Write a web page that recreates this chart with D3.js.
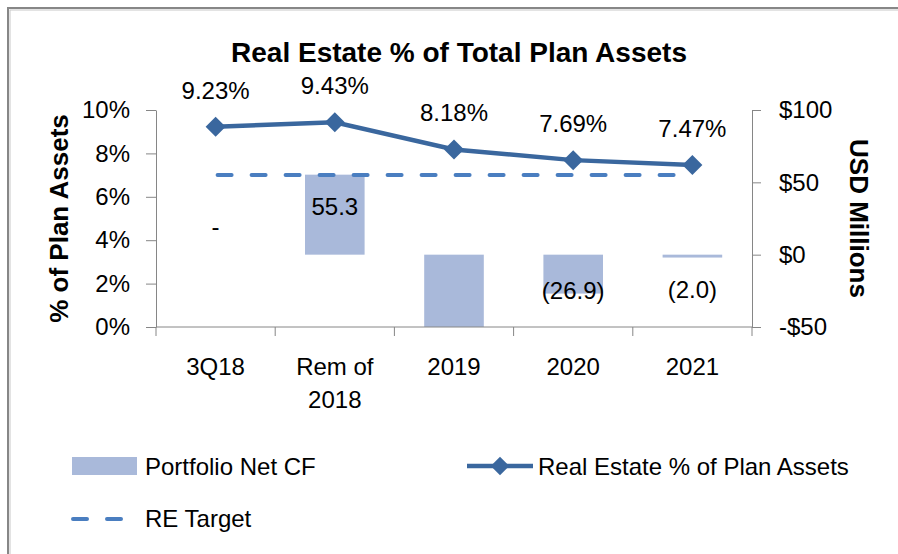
<!DOCTYPE html>
<html>
<head>
	<title>Real Estate % of Total Plan Assets</title>
	<script src="https://cdn.jsdelivr.net/npm/d3@7"></script>
	<style type="text/css">

body {
	margin: 0;
	background: #fff;
}

text {
	font-family: "Liberation Sans", Arial, sans-serif;
	fill: #000;
}

.axis path, .axis line {
	stroke: #868686;
	stroke-width: 1px;
	fill: none;
}

.axis text {
	font-size: 24px;
}

.boxheading {
	font-weight: bold;
}

	</style>
</head>
<body>

<div id="chart"></div>

<script type="text/javascript">

var categories = ["3Q18", "Rem of 2018", "2019", "2020", "2021"];
var categoryLines = [["3Q18"], ["Rem of", "2018"], ["2019"], ["2020"], ["2021"]];
var netCF = [0, 55.3, -56, -26.9, -2.0];          // USD millions, right axis
var rePct = [0.0923, 0.0943, 0.0818, 0.0769, 0.0747];
var reTarget = 0.07;
var pctTicks = [0, 0.02, 0.04, 0.06, 0.08, 0.10];
var usdTicks = [-50, 0, 50, 100];

var width = 898, height = 554;
var plot = {left: 156, right: 752, top: 110, bottom: 327};

var colors = {bar: "#a9b9da", line: "#3a679e", target: "#4a7ec0", frame: "#878787"};

var svg = d3.select("#chart").append("svg")
			.attr("width", width)
			.attr("height", height);

// outer frame (runs past the right and bottom edges like the screenshot)
svg.append("rect")
	.attr("x", 8).attr("y", 8)
	.attr("width", 1000).attr("height", 1000)
	.attr("fill", "none")
	.attr("stroke", colors.frame)
	.attr("stroke-width", 2);
svg.append("rect")
	.attr("x", 10).attr("y", 10)
	.attr("width", 1000).attr("height", 1000)
	.attr("fill", "none")
	.attr("stroke", "#c8c8c8")
	.attr("stroke-width", 1);

var x = d3.scaleBand().domain(categories).range([plot.left, plot.right]);
var yL = d3.scaleLinear().domain([0, 0.10]).range([plot.bottom, plot.top]);
var yR = d3.scaleLinear().domain([-50, 100]).range([plot.bottom, plot.top]);

function cx(i){ return x(categories[i]) + x.bandwidth()/2; }

svg.append("clipPath").attr("id", "plotclip")
	.append("rect")
	.attr("x", plot.left).attr("y", plot.top)
	.attr("width", plot.right - plot.left)
	.attr("height", plot.bottom - plot.top);

// title
svg.append("text")
	.attr("class", "boxheading")
	.attr("x", 459).attr("y", 62)
	.attr("text-anchor", "middle")
	.style("font-size", "28px")
	.text("Real Estate % of Total Plan Assets");

// bars
var barW = x.bandwidth() * 0.5;
var bars = svg.append("g").attr("clip-path", "url(#plotclip)");

bars.selectAll(".bar")
	.data(netCF)
	.enter().append("rect")
	.attr("class", "bar")
	.attr("x", function(d,i){ return cx(i) - barW/2; })
	.attr("y", function(d){ return Math.min(yR(d), yR(0)); })
	.attr("width", barW)
	.attr("height", function(d){ return Math.abs(yR(d) - yR(0)); })
	.attr("fill", colors.bar);

// labels of bars that run off the axis are not shown (as in Excel)
var fmt1 = d3.format(".1f");
var yDom = yR.domain();
bars.selectAll(".barlabel")
	.data(netCF)
	.enter().append("text")
	.attr("class", "barlabel")
	.attr("x", function(d,i){ return cx(i); })
	.attr("y", function(d){
		if (d > 0) return yR(d) + 40;
		if (d == 0) return yR(0) - 20;
		return Math.max(yR(d), yR(0) + 38) + 5;
	})
	.attr("text-anchor", "middle")
	.style("font-size", "24px")
	.style("display", function(d){ return (d < yDom[0] || d > yDom[1]) ? "none" : null; })
	.text(function(d){
		if (d == 0) return "-";
		return d < 0 ? "(" + fmt1(-d) + ")" : fmt1(d);
	});

// axes
svg.append("g")
	.attr("class", "axis")
	.attr("transform", "translate(" + plot.left + ",0)")
	.call(d3.axisLeft(yL).tickValues(pctTicks).tickFormat(d3.format(".0%"))
		.tickSize(10).tickSizeOuter(0).tickPadding(16));

svg.append("g")
	.attr("class", "axis")
	.attr("transform", "translate(" + plot.right + ",0)")
	.call(d3.axisRight(yR).tickValues(usdTicks)
		.tickFormat(function(d){ return (d < 0 ? "-$" : "$") + Math.abs(d); })
		.tickSize(9).tickSizeOuter(0).tickPadding(18));

var bottom = svg.append("g").attr("class", "axis");
bottom.append("line")
	.attr("x1", plot.left).attr("x2", plot.right)
	.attr("y1", plot.bottom).attr("y2", plot.bottom);
bottom.selectAll(".btick")
	.data(categories.map(function(c){ return x(c); }).concat([x.range()[1]]))
	.enter().append("line")
	.attr("x1", function(d){ return d; }).attr("x2", function(d){ return d; })
	.attr("y1", plot.bottom).attr("y2", plot.bottom + 9);

var xlab = bottom.selectAll(".xlab")
	.data(categoryLines)
	.enter().append("text")
	.attr("class", "xlab")
	.attr("text-anchor", "middle")
	.attr("transform", function(d,i){ return "translate(" + cx(i) + ",375)"; });
xlab.selectAll("tspan")
	.data(function(d){ return d; })
	.enter().append("tspan")
	.attr("x", 0)
	.attr("y", function(d,i){ return i*33; })
	.text(String);

// axis titles
svg.append("text")
	.attr("class", "boxheading")
	.attr("transform", "translate(68," + ((plot.top + plot.bottom)/2) + ") rotate(-90)")
	.attr("text-anchor", "middle")
	.style("font-size", "26px")
	.text("% of Plan Assets");

svg.append("text")
	.attr("class", "boxheading")
	.attr("transform", "translate(850," + ((plot.top + plot.bottom)/2) + ") rotate(90)")
	.attr("text-anchor", "middle")
	.style("font-size", "26px")
	.text("USD Millions");

// target line
svg.append("line")
	.attr("x1", cx(0) + 2).attr("x2", cx(categories.length - 1) - 2)
	.attr("y1", yL(reTarget)).attr("y2", yL(reTarget))
	.attr("stroke", colors.target)
	.attr("stroke-width", 4)
	.attr("stroke-linecap", "round")
	.attr("stroke-dasharray", "14,20");

// real estate % line
var line = d3.line()
	.x(function(d,i){ return cx(i); })
	.y(function(d){ return yL(d); });

svg.append("path")
	.datum(rePct)
	.attr("d", line)
	.attr("fill", "none")
	.attr("stroke", colors.line)
	.attr("stroke-width", 4.5);

var diamond = d3.symbol().type(d3.symbolSquare).size(200);
svg.selectAll(".marker")
	.data(rePct)
	.enter().append("path")
	.attr("class", "marker")
	.attr("d", diamond)
	.attr("transform", function(d,i){ return "translate(" + cx(i) + "," + yL(d) + ") rotate(45)"; })
	.attr("fill", colors.line);

var fmtPct = d3.format(".2%");
svg.selectAll(".pctlabel")
	.data(rePct)
	.enter().append("text")
	.attr("class", "pctlabel")
	.attr("x", function(d,i){ return cx(i); })
	.attr("y", function(d){ return yL(d) - 28; })
	.attr("text-anchor", "middle")
	.style("font-size", "24px")
	.text(fmtPct);

// legend
var legend = svg.append("g").attr("class", "legend");

legend.append("rect")
	.attr("x", 72).attr("y", 457)
	.attr("width", 65).attr("height", 18)
	.attr("fill", colors.bar);
legend.append("text")
	.attr("x", 145).attr("y", 475)
	.style("font-size", "24px")
	.text("Portfolio Net CF");

legend.append("line")
	.attr("x1", 467).attr("x2", 533)
	.attr("y1", 466).attr("y2", 466)
	.attr("stroke", colors.line)
	.attr("stroke-width", 4.5);
legend.append("path")
	.attr("d", d3.symbol().type(d3.symbolSquare).size(170))
	.attr("transform", "translate(500,466) rotate(45)")
	.attr("fill", colors.line);
legend.append("text")
	.attr("x", 538).attr("y", 475)
	.style("font-size", "24px")
	.text("Real Estate % of Plan Assets");

legend.append("line")
	.attr("x1", 73).attr("x2", 123)
	.attr("y1", 519).attr("y2", 519)
	.attr("stroke", colors.target)
	.attr("stroke-width", 4)
	.attr("stroke-linecap", "round")
	.attr("stroke-dasharray", "14,20");
legend.append("text")
	.attr("x", 145).attr("y", 527)
	.style("font-size", "24px")
	.text("RE Target");

</script>
</body>
</html>
